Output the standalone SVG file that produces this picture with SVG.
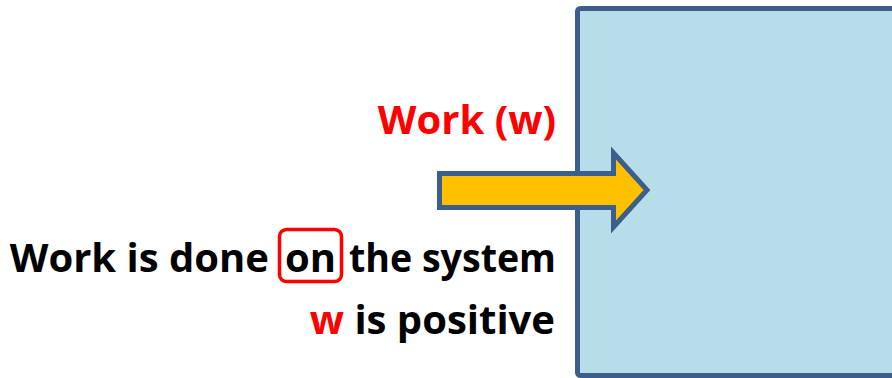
<svg xmlns="http://www.w3.org/2000/svg" width="892" height="378" viewBox="0 0 892 378">
<style>
.t{font-family:"Open Sans","Liberation Sans",sans-serif;font-weight:700;font-size:40px}
.red{fill:#FF0000}
.blk{fill:#000000}
</style>
<rect x="0" y="0" width="892" height="378" fill="#FFFFFF"/>
<g id="system">
<rect x="577.5" y="8.5" width="330" height="367" rx="3" fill="#B7DDE8" stroke="#3B5E8C" stroke-width="5"/>
</g>
<g id="connectors">
<polygon points="439.5,173.5 613.5,173.5 613.5,153 647,190 613.5,227 613.5,207.5 439.5,207.5" fill="#FFC000" stroke="#3B5E8C" stroke-width="5" stroke-linejoin="miter"/>
</g>
<g id="work-label">
<text class="t red" x="556" y="134" text-anchor="end">Work (w)</text>
</g>
<g id="statement">
<text class="t blk" x="269" y="272" text-anchor="end">Work is done</text>
<rect x="279.5" y="229.5" width="62" height="52" rx="7" fill="none" stroke="#FF0000" stroke-width="3.5"/>
<text class="t blk" x="310.5" y="272" text-anchor="middle">on</text>
<text class="t blk" x="349" y="272" textLength="207" lengthAdjust="spacingAndGlyphs">the system</text>
</g>
<g id="sign">
<text class="t" x="555" y="334" text-anchor="end"><tspan class="red">w</tspan><tspan class="blk"> is positive</tspan></text>
</g>
</svg>
